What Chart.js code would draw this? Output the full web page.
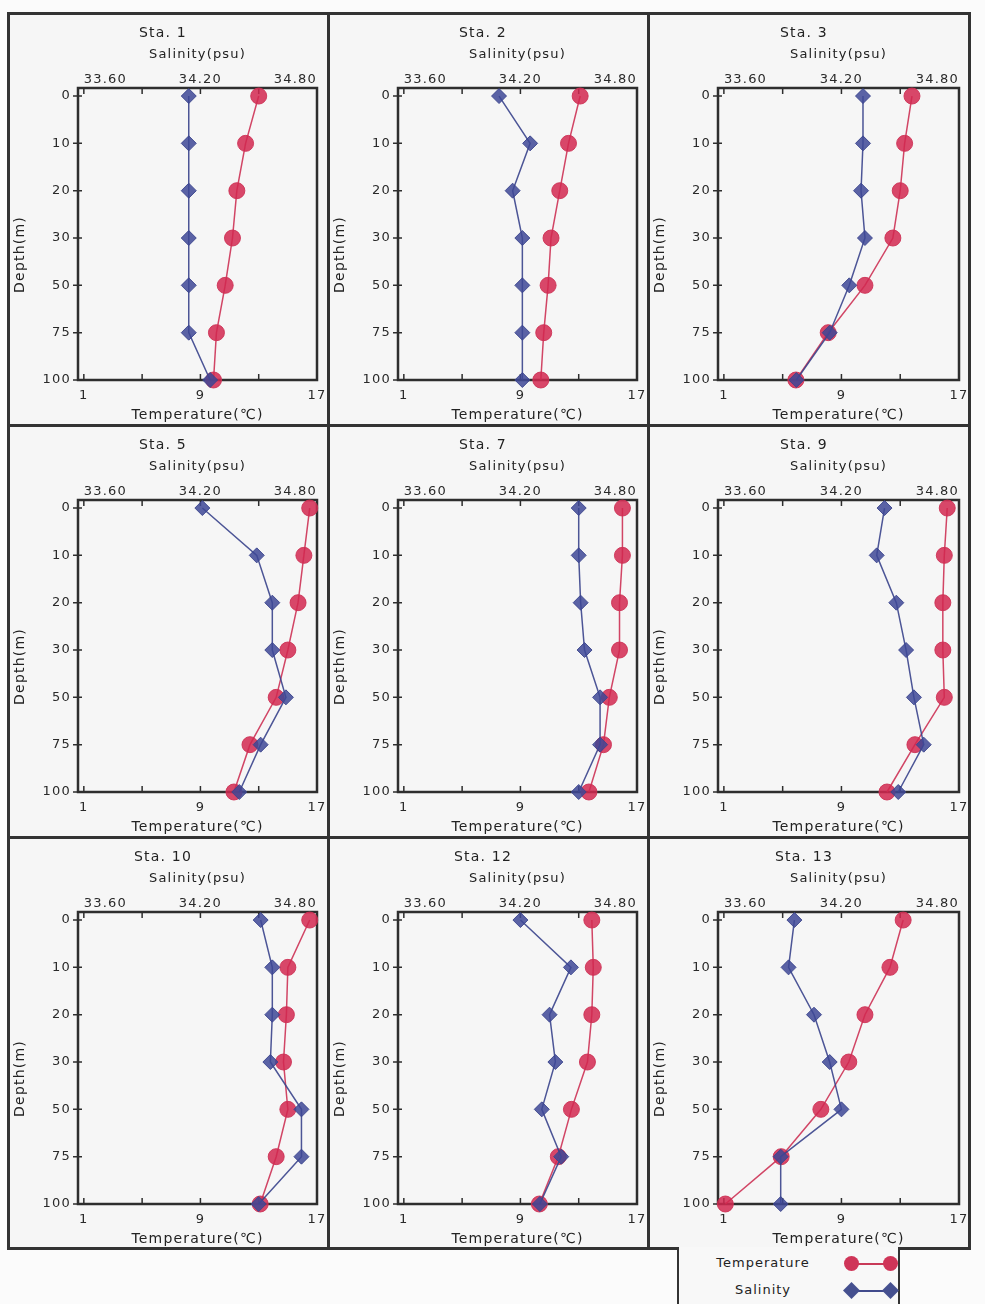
<!DOCTYPE html>
<html>
<head>
<meta charset="utf-8">
<title>Sta. profiles</title>
<script src="https://cdn.jsdelivr.net/npm/chart.js@4.4.1/dist/chart.umd.min.js"></script>
<style>
    body { margin: 0; width: 985px; height: 1304px; position: relative; overflow: hidden; background: #fbfbfb; font-family: "DejaVu Sans", sans-serif; }
    canvas.sta { position: absolute; background: #f6f6f6; }
    .line { position: absolute; background: #333; }
    #legend { position: absolute; left: 677px; top: 1247px; width: 219px; height: 70px; border-left: 2px solid #333; border-right: 2px solid #333; background: #f8f8f8; }
    .lrow { position: absolute; left: 0; width: 219px; height: 24px; font-size: 13px; letter-spacing: 1px; color: #222; }
    .lrow .txt { position: absolute; width: 168px; text-align: center; top: 3px; }
    .lrow .bar { position: absolute; left: 172px; top: 11px; width: 40px; height: 1.5px; }
    .lrow .mk { position: absolute; top: 4px; width: 15px; height: 15px; }
    .red .bar { background: #c83a58; }
    .red .mk { border-radius: 50%; background: #cf3558; }
    .blue .bar { background: #414b8c; }
    .blue .mk { background: #45508f; transform: rotate(45deg) scale(0.8); }
</style>
</head>
<body>
<canvas class="sta" id="c0" width="318" height="410" style="left:9px;top:14px"></canvas>
<canvas class="sta" id="c1" width="318" height="410" style="left:329px;top:14px"></canvas>
<canvas class="sta" id="c2" width="320" height="410" style="left:649px;top:14px"></canvas>
<canvas class="sta" id="c3" width="318" height="410" style="left:9px;top:426px"></canvas>
<canvas class="sta" id="c4" width="318" height="410" style="left:329px;top:426px"></canvas>
<canvas class="sta" id="c5" width="320" height="410" style="left:649px;top:426px"></canvas>
<canvas class="sta" id="c6" width="318" height="410" style="left:9px;top:838px"></canvas>
<canvas class="sta" id="c7" width="318" height="410" style="left:329px;top:838px"></canvas>
<canvas class="sta" id="c8" width="320" height="410" style="left:649px;top:838px"></canvas>

<!-- panel frame -->
<div class="line" style="left:7px;top:12px;width:3px;height:1238px"></div>
<div class="line" style="left:327px;top:12px;width:3px;height:1238px"></div>
<div class="line" style="left:647px;top:12px;width:3px;height:1238px"></div>
<div class="line" style="left:968px;top:12px;width:3px;height:1238px"></div>
<div class="line" style="left:7px;top:12px;width:964px;height:3px"></div>
<div class="line" style="left:7px;top:424px;width:964px;height:3px"></div>
<div class="line" style="left:7px;top:836px;width:964px;height:3px"></div>
<div class="line" style="left:7px;top:1247px;width:964px;height:3px"></div>

<div id="legend">
    <div class="lrow red" style="top:5px">
        <span class="txt">Temperature</span>
        <span class="bar"></span><span class="mk" style="left:165px"></span><span class="mk" style="left:204px"></span>
    </div>
    <div class="lrow blue" style="top:32px">
        <span class="txt">Salinity</span>
        <span class="bar"></span><span class="mk" style="left:165px"></span><span class="mk" style="left:204px"></span>
    </div>
</div>

<script>
// depth levels (m), drawn evenly spaced
const depths = ['0', '10', '20', '30', '50', '75', '100'];
const stations = ['Sta. 1', 'Sta. 2', 'Sta. 3', 'Sta. 5', 'Sta. 7', 'Sta. 9', 'Sta. 10', 'Sta. 12', 'Sta. 13'];

// temperature (℃) and salinity (psu) per station, surface to 100 m
const temp1 = [13.0, 12.1, 11.5, 11.2, 10.7, 10.1, 9.9];
const sal1 = [34.14, 34.14, 34.14, 34.14, 34.14, 34.14, 34.25];
const temp2 = [13.1, 12.3, 11.7, 11.1, 10.9, 10.6, 10.4];
const sal2 = [34.09, 34.25, 34.16, 34.21, 34.21, 34.21, 34.21];
const temp3 = [13.8, 13.3, 13.0, 12.5, 10.6, 8.1, 5.9];
const sal3 = [34.31, 34.31, 34.30, 34.32, 34.24, 34.14, 33.97];
const temp5 = [16.5, 16.1, 15.7, 15.0, 14.2, 12.4, 11.3];
const sal5 = [34.21, 34.49, 34.57, 34.57, 34.64, 34.51, 34.40];
const temp7 = [16.0, 16.0, 15.8, 15.8, 15.1, 14.7, 13.7];
const sal7 = [34.50, 34.50, 34.51, 34.53, 34.61, 34.61, 34.50];
const temp9 = [16.2, 16.0, 15.9, 15.9, 16.0, 14.0, 12.1];
const sal9 = [34.42, 34.38, 34.48, 34.53, 34.57, 34.62, 34.49];
const temp10 = [16.5, 15.0, 14.9, 14.7, 15.0, 14.2, 13.1];
const sal10 = [34.51, 34.57, 34.57, 34.56, 34.72, 34.72, 34.50];
const temp12 = [13.9, 14.0, 13.9, 13.6, 12.5, 11.6, 10.3];
const sal12 = [34.20, 34.46, 34.35, 34.38, 34.31, 34.41, 34.30];
const temp13 = [13.2, 12.3, 10.6, 9.5, 7.6, 4.9, 1.1];
const sal13 = [33.96, 33.93, 34.06, 34.14, 34.20, 33.89, 33.89];

const tempTicks = [1, 5, 9, 13, 17];
const tempLabels = [1, 9, 17];
const salTicks = [33.6, 33.9, 34.2, 34.5, 34.8];
const salLabels = [33.6, 34.2, 34.8];

const temps = [temp1, temp2, temp3, temp5, temp7, temp9, temp10, temp12, temp13];
const sals = [sal1, sal2, sal3, sal5, sal7, sal9, sal10, sal12, sal13];

Chart.defaults.font.family = '"DejaVu Sans", sans-serif';
Chart.defaults.color = '#2a2a2a';

// wider letter spacing on the canvas text
const spacing = {
    id: 'spacing',
    beforeUpdate(chart) { chart.ctx.letterSpacing = '1.2px'; },
    beforeDraw(chart) { chart.ctx.letterSpacing = '1.2px'; }
};

// box round the plot area plus tick marks (inward on top/bottom, across on the left)
const frameTicks = {
    id: 'frameTicks',
    beforeDatasetsDraw(chart) {
        const { ctx, chartArea: a, scales } = chart;
        ctx.save();
        ctx.strokeStyle = '#2e2e2e';
        ctx.lineWidth = 2.5;
        ctx.strokeRect(a.left, a.top, a.right - a.left, a.bottom - a.top);
        ctx.lineWidth = 1.5;
        ctx.beginPath();
        scales.x.ticks.forEach(t => {
            const x = scales.x.getPixelForValue(t.value);
            ctx.moveTo(x, a.bottom);
            ctx.lineTo(x, a.bottom - 6);
        });
        scales.sal.ticks.forEach(t => {
            const x = scales.sal.getPixelForValue(t.value);
            ctx.moveTo(x, a.top);
            ctx.lineTo(x, a.top + 6);
        });
        scales.y.ticks.forEach(t => {
            const y = scales.y.getPixelForValue(t.value);
            ctx.moveTo(a.left - 5, y);
            ctx.lineTo(a.left + 4, y);
        });
        ctx.stroke();
        ctx.restore();
    }
};

// horizontal axes: no extra room for the end labels
function noSidePadding(s) {
    s.paddingLeft = 0;
    s.paddingRight = 0;
}

function drawStation(id, title, temp, sal) {
    const ctx = document.getElementById(id).getContext('2d');
    return new Chart(ctx, {
        type: 'line',
        data: {
            datasets: [{
                label: 'Salinity',
                xAxisID: 'sal',
                data: sal.map((v, i) => ({ x: v, y: i })),
                borderColor: 'rgba(58, 68, 140, 0.9)',
                backgroundColor: 'rgba(62, 72, 150, 0.85)',
                borderWidth: 1.5,
                pointStyle: 'rectRot',
                pointRadius: 7.5,
                pointBorderWidth: 1,
                clip: false
            }, {
                label: 'Temperature',
                xAxisID: 'x',
                data: temp.map((v, i) => ({ x: v, y: i })),
                borderColor: 'rgba(205, 50, 85, 0.9)',
                backgroundColor: 'rgba(210, 40, 80, 0.85)',
                borderWidth: 1.5,
                pointStyle: 'circle',
                pointRadius: 8,
                pointBorderWidth: 1,
                clip: false
            }]
        },
        options: {
            responsive: false,
            animation: false,
            layout: { padding: { left: 0, right: 10, top: 0, bottom: 0 } },
            plugins: {
                legend: { display: false },
                tooltip: { enabled: false },
                title: {
                    display: true,
                    text: title,
                    color: '#222',
                    font: { size: 14, weight: 'normal' },
                    padding: { top: 11, bottom: 0 }
                }
            },
            scales: {
                x: {
                    type: 'linear',
                    position: 'bottom',
                    min: 0.6,
                    max: 17,
                    afterBuildTicks: s => { s.ticks = tempTicks.map(v => ({ value: v })); },
                    afterFit: s => { s.height = 44; noSidePadding(s); },
                    grid: { display: false, drawTicks: false },
                    border: { display: false },
                    ticks: {
                        autoSkip: false,
                        maxRotation: 0,
                        padding: 8,
                        font: { size: 13 },
                        callback: v => tempLabels.includes(v) ? String(v) : ''
                    },
                    title: {
                        display: true,
                        text: 'Temperature(℃)',
                        color: '#222',
                        font: { size: 14 },
                        padding: { top: 0, bottom: 0 }
                    }
                },
                sal: {
                    type: 'linear',
                    position: 'top',
                    min: 33.57,
                    max: 34.8,
                    afterBuildTicks: s => { s.ticks = salTicks.map(v => ({ value: v })); },
                    afterFit: s => { s.height = 46.2; noSidePadding(s); },
                    grid: { display: false, drawTicks: false },
                    border: { display: false },
                    ticks: {
                        autoSkip: false,
                        maxRotation: 0,
                        align: 'inner',
                        padding: 1,
                        font: { size: 13 },
                        callback: v => salLabels.includes(v) ? v.toFixed(2) : ''
                    },
                    title: {
                        display: true,
                        text: 'Salinity(psu)',
                        color: '#222',
                        font: { size: 13 },
                        padding: { top: 5, bottom: 0 }
                    }
                },
                y: {
                    type: 'linear',
                    reverse: true,
                    min: -0.17,
                    max: depths.length - 1,
                    afterBuildTicks: s => { s.ticks = depths.map((d, i) => ({ value: i })); },
                    afterFit: s => { s.width = 69; },
                    grid: { display: false, drawTicks: false },
                    border: { display: false },
                    ticks: {
                        autoSkip: false,
                        padding: 7,
                        font: { size: 13 },
                        callback: v => depths[v]
                    },
                    title: {
                        display: true,
                        // trailing spaces push the rotated label a little lower
                        text: 'Depth(m)\u2002\u2002\u2002\u2002\u2002',
                        color: '#222',
                        font: { size: 14 },
                        padding: { top: 3, bottom: 0 }
                    }
                }
            }
        },
        plugins: [spacing, frameTicks]
    });
}

stations.forEach((name, k) => drawStation('c' + k, name, temps[k], sals[k]));
</script>
</body>
</html>
